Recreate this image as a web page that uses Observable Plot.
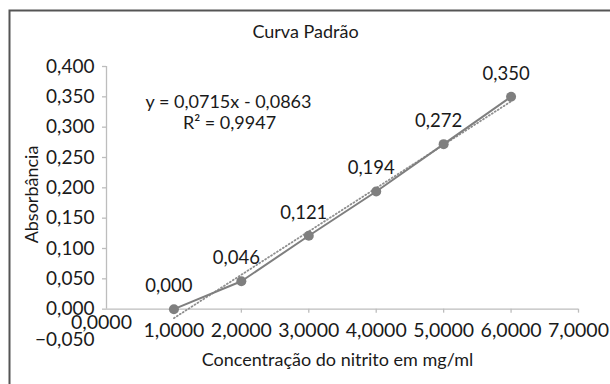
<!DOCTYPE html>
<html>
<head>
<meta charset="utf-8">
<script src="https://cdn.jsdelivr.net/npm/d3@7"></script>
<script src="https://cdn.jsdelivr.net/npm/@observablehq/plot@0.6"></script>
<style>
  html, body { margin: 0; padding: 0; background: #fff; }
  svg { display: block; }
</style>
</head>
<body>
<div id="chart"></div>
<script>
const concentrations = [1, 2, 3, 4, 5, 6];
const absorbances = [0.000, 0.046, 0.121, 0.194, 0.272, 0.350];
const xTicks = [0, 1, 2, 3, 4, 5, 6, 7];
const yTicks = [-0.05, 0, 0.05, 0.1, 0.15, 0.2, 0.25, 0.3, 0.35, 0.4];
const equationText = "y = 0,0715x - 0,0863";
const r2Text = "R² = 0,9947";
const titleText = "Curva Padrão";
const xLabel = "Concentração do nitrito em mg/ml";
const yLabel = "Absorbância";

const data = concentrations.map((x, i) => ({x, y: absorbances[i]}));
const fmtY = d => d.toFixed(3).replace(".", ",").replace("-", "−");
const fmtX = d => d.toFixed(4).replace(".", ",");
const font = "Lato, 'Open Sans', sans-serif";
const ink = "#1a1a1a";
const axisGray = "#bdbdbd";
const seriesGray = "#7f7f7f";
const fs = 18;
const label = (txt, px, py, extra = {}) =>
  Plot.text([txt], {frameAnchor: "top-left", dx: px, dy: py, text: d => d, textAnchor: "middle", lineAnchor: "middle", fill: ink, fontSize: fs, ...extra});

const chart = Plot.plot({
  width: 610,
  height: 384,
  marginTop: 0, marginRight: 0, marginBottom: 0, marginLeft: 0,
  style: {fontFamily: font, fontSize: fs + "px", color: ink, background: "#fff"},
  x: {domain: [0, 7], range: [106, 578], axis: null},
  y: {domain: [-0.05, 0.4], range: [339, 66], axis: null},
  marks: [
    Plot.frame({stroke: "#555", strokeWidth: 2, insetLeft: 9, insetTop: 10, insetRight: -10, insetBottom: -10}),
    // axis lines
    Plot.ruleX([0], {y1: 0, y2: 0.4, stroke: axisGray, strokeWidth: 1.3}),
    Plot.ruleY([0], {x1: 0, x2: 7, stroke: axisGray, strokeWidth: 1.3}),
    // y axis ticks and labels
    Plot.ruleY(yTicks.filter(d => d >= 0), {y: d => d, x1: 0, x2: 0, insetLeft: -4, stroke: axisGray, strokeWidth: 1.3}),
    Plot.text(yTicks, {x: 0, y: d => d, text: fmtY, textAnchor: "end", dx: -12, fill: ink, fontSize: 19}),
    // x axis ticks (at y = 0)
    Plot.ruleX(xTicks.filter(d => d > 0), {x: d => d, y1: 0, y2: 0, insetBottom: -4, stroke: axisGray, strokeWidth: 1.3}),
    Plot.text(xTicks.filter(d => d > 0), {x: d => d, y: 0, text: fmtX, dy: 22, fill: ink, fontSize: 19.5}),
    Plot.text(xTicks.filter(d => d === 0), {x: d => d, y: 0, text: fmtX, dy: 14, dx: -5, fill: ink, fontSize: 19.5}),
    // trendline (linear regression of the data)
    Plot.linearRegressionY(data, {x: "x", y: "y", ci: 0, stroke: "#8f8f8f", strokeWidth: 1.8, strokeDasharray: "1,2.5"}),
    // series
    Plot.line(data, {x: "x", y: "y", stroke: seriesGray, strokeWidth: 2}),
    Plot.dot(data, {x: "x", y: "y", r: 5, fill: seriesGray, stroke: "none"}),
    Plot.text(data, {x: "x", y: "y", text: d => fmtY(d.y), dx: -5, dy: -23, fill: ink, fontSize: 18.5}),
    // titles
    label(titleText, 305, 32),
    label(equationText, 228, 102),
    label(r2Text, 229, 123),
    label(xLabel, 337, 360),
    label(yLabel, 32, 194, {rotate: -90})
  ]
});
document.getElementById("chart").append(chart);
</script>
</body>
</html>
